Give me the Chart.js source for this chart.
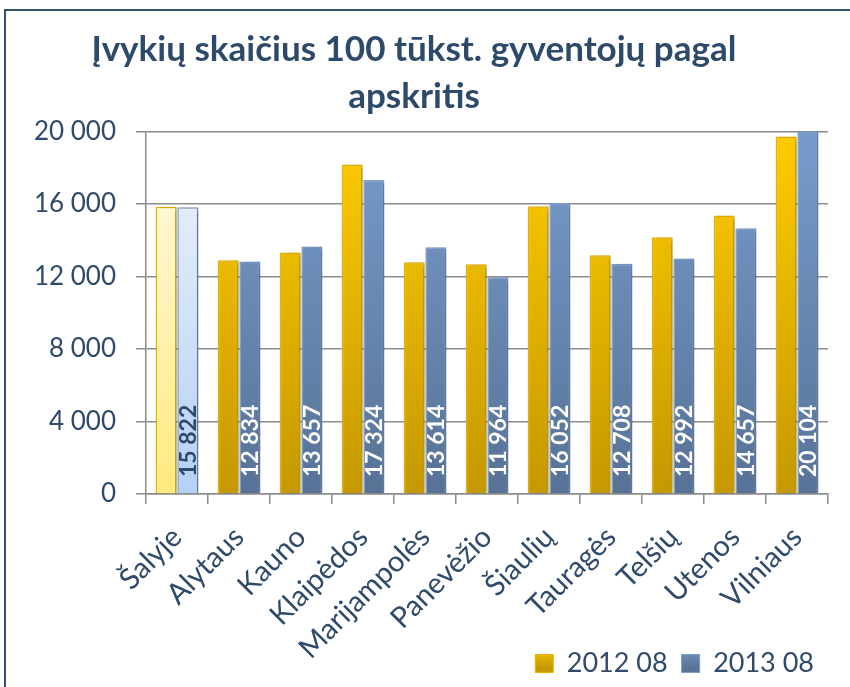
<!DOCTYPE html>
<html>
<head>
<meta charset="utf-8">
<script src="https://cdn.jsdelivr.net/npm/chart.js@4/dist/chart.umd.min.js"></script>
<style>
  html, body { margin: 0; padding: 0; background: #fff; }
  #wrap { width: 850px; height: 687px; position: relative; }
</style>
</head>
<body>
<div id="wrap"><canvas id="chart" width="850" height="687"></canvas></div>
<script>
const categories = ["Šalyje", "Alytaus", "Kauno", "Klaipėdos", "Marijampolės", "Panevėžio", "Šiaulių", "Tauragės", "Telšių", "Utenos", "Vilniaus"];
const values2012 = [15850, 12900, 13330, 18180, 12780, 12670, 15870, 13170, 14160, 15370, 19720];
const values2013 = [15822, 12834, 13657, 17324, 13614, 11964, 16052, 12708, 12992, 14657, 20104];
const seriesNames = ["2012 08", "2013 08"];
const yTicks = [0, 4000, 8000, 12000, 16000, 20000];

const fontFam = "Lato, 'Liberation Sans', sans-serif";
const textCol = "#2f4a6a";
const fmt = v => String(v).replace(/\B(?=(\d{3})+(?!\d))/g, " ");

function grad(ctx, area, top, bottom) {
    const g = ctx.createLinearGradient(0, area.top, 0, area.bottom);
    g.addColorStop(0, top);
    g.addColorStop(1, bottom);
    return g;
}

function fill(series) {
    return c => {
        const area = c.chart.chartArea;
        if (!area) return series === 0 ? "#f5c400" : "#6c8fbd";
        const ctx = c.chart.ctx;
        if (c.dataIndex === 0) {
            return series === 0 ? grad(ctx, area, "#fffbe6", "#ffeb80") : grad(ctx, area, "#eef4fd", "#b6d0f5");
        }
        return series === 0 ? grad(ctx, area, "#ffcc00", "#c49800") : grad(ctx, area, "#779ccc", "#587296");
    };
}

const frame = {
    id: "frame",
    beforeDraw(chart) {
        const ctx = chart.ctx;
        ctx.save();
        ctx.strokeStyle = "#34506f";
        ctx.lineWidth = 2;
        ctx.strokeRect(5, 10, 900, 800);
        ctx.restore();
    }
};

const shadow = {
    id: "shadow",
    beforeDatasetDraw(chart) {
        const ctx = chart.ctx;
        ctx.save();
        ctx.shadowColor = "rgba(0,0,0,0.3)";
        ctx.shadowBlur = 5;
        ctx.shadowOffsetX = 3;
        ctx.shadowOffsetY = 1;
    },
    afterDatasetDraw(chart) {
        chart.ctx.restore();
    }
};

const barLabels = {
    id: "barLabels",
    afterDatasetsDraw(chart) {
        const ctx = chart.ctx;
        const meta = chart.getDatasetMeta(1);
        ctx.save();
        ctx.font = "bold 23px " + fontFam;
        ctx.textAlign = "left";
        ctx.textBaseline = "middle";
        meta.data.forEach((bar, i) => {
            ctx.save();
            ctx.translate(bar.x + 1, chart.chartArea.bottom - 17);
            ctx.rotate(-Math.PI / 2);
            ctx.fillStyle = i === 0 ? "#2f4b6c" : "#ffffff";
            ctx.fillText(fmt(values2013[i]), 0, 0);
            ctx.restore();
        });
        ctx.restore();
    }
};

new Chart(document.getElementById("chart"), {
    type: "bar",
    data: {
        labels: categories,
        datasets: [{
            label: seriesNames[0],
            data: values2012,
            backgroundColor: fill(0),
            borderColor: "#e8b400",
            borderWidth: 1.5,
            borderSkipped: "bottom"
        }, {
            label: seriesNames[1],
            data: values2013,
            backgroundColor: fill(1),
            borderColor: "#7a9cc8",
            borderWidth: 1.5,
            borderSkipped: "bottom"
        }]
    },
    options: {
        responsive: false,
        animation: false,
        categoryPercentage: 0.7,
        barPercentage: 0.97,
        layout: { padding: { left: 0, right: 22, top: 0, bottom: 0 } },
        plugins: {
            title: {
                display: true,
                text: ["Įvykių skaičius 100 tūkst. gyventojų pagal", "apskritis"],
                color: "#2e4a6b",
                font: { family: fontFam, size: 35, weight: "bold", lineHeight: 1.35 },
                padding: { top: 26, bottom: 11 }
            },
            legend: {
                position: "bottom",
                align: "end",
                labels: {
                    color: textCol,
                    font: { family: fontFam, size: 27 },
                    boxWidth: 18,
                    boxHeight: 18,
                    padding: 14,
                    generateLabels(chart) {
                        const ctx = chart.ctx;
                        const cols = [["#ffcc00", "#c49800"], ["#779ccc", "#587296"]];
                        return chart.data.datasets.map((ds, i) => {
                            const g = ctx.createLinearGradient(0, 645, 0, 668);
                            g.addColorStop(0, cols[i][0]);
                            g.addColorStop(1, cols[i][1]);
                            return {
                                text: ds.label,
                                fillStyle: g,
                                strokeStyle: ds.borderColor,
                                lineWidth: 1,
                                fontColor: textCol,
                                datasetIndex: i
                            };
                        });
                    }
                }
            },
            tooltip: { enabled: false }
        },
        scales: {
            x: {
                afterFit(scale) {
                    scale.height = 142;
                    // let the long rotated labels run past the axis box, next to the legend
                    scale._computeLabelArea = () => undefined;
                },
                grid: {
                    offset: true,
                    drawOnChartArea: false,
                    drawTicks: true,
                    tickLength: 10,
                    color: "#8c8c8c",
                    lineWidth: 1.5
                },
                border: { color: "#8c8c8c", width: 1.5 },
                ticks: {
                    color: textCol,
                    font: { family: fontFam, size: 29 },
                    minRotation: 45,
                    maxRotation: 45,
                    padding: 16
                }
            },
            y: {
                min: 0,
                max: 20000,
                afterFit(scale) { scale.width = 146; },
                afterBuildTicks(axis) {
                    axis.ticks = yTicks.map(v => ({ value: v }));
                },
                grid: {
                    color: "#8c8c8c",
                    lineWidth: 1.5,
                    tickLength: 10
                },
                border: { color: "#8c8c8c", width: 1.5 },
                ticks: {
                    color: textCol,
                    font: { family: fontFam, size: 26 },
                    padding: 20,
                    callback: v => fmt(v)
                }
            }
        }
    },
    plugins: [frame, shadow, barLabels]
});
</script>
</body>
</html>
